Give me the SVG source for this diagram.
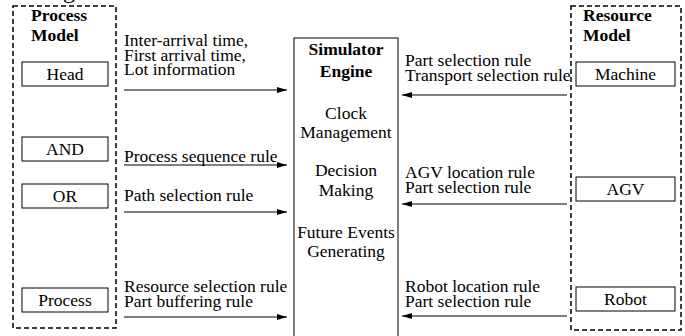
<svg xmlns="http://www.w3.org/2000/svg" width="685" height="336" viewBox="0 0 685 336" font-family="'Liberation Serif', serif" font-size="17.5">
  <style>
    text { fill: #000; }
    .bold { font-weight: bold; }
    .mid { text-anchor: middle; }
    .group { fill: none; stroke: #000; stroke-width: 1.5; stroke-dasharray: 5 3; }
    .node { fill: #fff; stroke: #000; stroke-width: 1; }
    .engine { fill: #fff; stroke: #000; stroke-width: 1; }
    .flow { stroke: #000; stroke-width: 1; fill: none; marker-end: url(#arrow); }
  </style>
  <defs>
    <marker id="arrow" viewBox="0 0 10 6" refX="10" refY="3" markerWidth="10" markerHeight="6" markerUnits="userSpaceOnUse" orient="auto">
      <path d="M0,0 L10,3 L0,6 z" fill="#000"/>
    </marker>
  </defs>
  <rect width="685" height="336" fill="#fff"/>

  <!-- heading running off the top edge -->
  <text x="63" y="-2" font-size="24">g</text>

  <!-- Process model container -->
  <g id="process-model">
    <rect class="group" x="13" y="6" width="103" height="322"/>
    <text class="bold" x="31" y="21">Process</text>
    <text class="bold" x="31" y="41">Model</text>
  </g>
  <g id="head">
    <rect class="node" x="22" y="62" width="86" height="24"/>
    <text class="mid" x="65" y="80">Head</text>
  </g>
  <g id="and">
    <rect class="node" x="22" y="137" width="86" height="24"/>
    <text class="mid" x="65" y="155">AND</text>
  </g>
  <g id="or">
    <rect class="node" x="22" y="184" width="86" height="24"/>
    <text class="mid" x="65" y="202">OR</text>
  </g>
  <g id="process">
    <rect class="node" x="22" y="288" width="86" height="24"/>
    <text class="mid" x="65" y="306">Process</text>
  </g>

  <!-- Simulator engine -->
  <g id="simulator-engine">
    <rect class="engine" x="294" y="38" width="104" height="300"/>
    <text class="bold mid" x="346" y="55">Simulator</text>
    <text class="bold mid" x="346" y="77">Engine</text>
    <text class="mid" x="346" y="119">Clock</text>
    <text class="mid" x="346" y="138">Management</text>
    <text class="mid" x="346" y="176">Decision</text>
    <text class="mid" x="346" y="196">Making</text>
    <text class="mid" x="346" y="238">Future Events</text>
    <text class="mid" x="346" y="257">Generating</text>
  </g>

  <!-- Resource model container -->
  <g id="resource-model">
    <rect class="group" x="571" y="6" width="110" height="324"/>
    <text class="bold" x="583" y="21">Resource</text>
    <text class="bold" x="583" y="41">Model</text>
  </g>
  <g id="machine">
    <rect class="node" x="576" y="62" width="99" height="24"/>
    <text class="mid" x="625.5" y="80">Machine</text>
  </g>
  <g id="agv">
    <rect class="node" x="576" y="177" width="99" height="24"/>
    <text class="mid" x="625.5" y="195">AGV</text>
  </g>
  <g id="robot">
    <rect class="node" x="576" y="287" width="99" height="24"/>
    <text class="mid" x="625.5" y="305">Robot</text>
  </g>

  <!-- Connectors with rule labels -->
  <g id="connectors">
    <line class="flow" x1="124" y1="90" x2="287" y2="90"/>
    <text x="124" y="46">Inter-arrival time,</text>
    <text x="124" y="60.5">First arrival time,</text>
    <text x="124" y="75">Lot information</text>

    <line class="flow" x1="124" y1="165" x2="287" y2="165"/>
    <text x="124" y="162">Process sequence rule</text>

    <line class="flow" x1="124" y1="212" x2="287" y2="212"/>
    <text x="124" y="201">Path selection rule</text>

    <line class="flow" x1="124" y1="317" x2="287" y2="317"/>
    <text x="124" y="292">Resource selection rule</text>
    <text x="124" y="306.5">Part buffering rule</text>

    <line class="flow" x1="567" y1="95" x2="402" y2="95"/>
    <text x="405" y="66">Part selection rule</text>
    <text x="405" y="80.5">Transport selection rule</text>

    <line class="flow" x1="567" y1="204" x2="402" y2="204"/>
    <text x="405" y="178">AGV location rule</text>
    <text x="405" y="192.5">Part selection rule</text>

    <line class="flow" x1="567" y1="316" x2="402" y2="316"/>
    <text x="405" y="292">Robot location rule</text>
    <text x="405" y="306.5">Part selection rule</text>
  </g>
</svg>
